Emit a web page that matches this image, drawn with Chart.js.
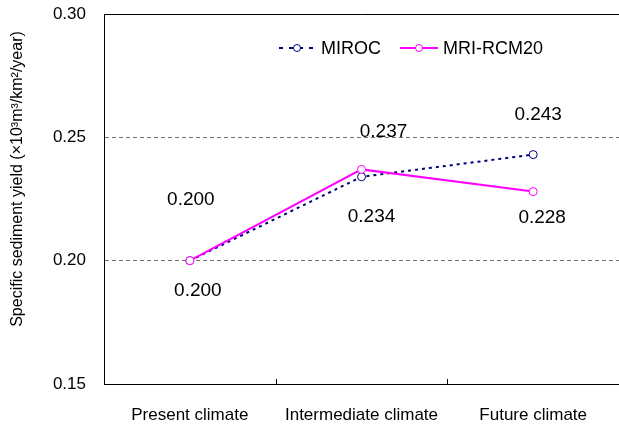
<!DOCTYPE html>
<html><head><meta charset="utf-8">
<script src="https://cdn.jsdelivr.net/npm/chart.js@4/dist/chart.umd.min.js"></script>
<style>html,body{margin:0;padding:0;background:#fff;overflow:hidden;}#wrap{position:relative;width:624px;height:425px;}</style>
</head><body><div id="wrap"><canvas id="c" width="624" height="425"></canvas></div>
<script>
const categories = ['Present climate', 'Intermediate climate', 'Future climate'];
const mirocValues = [0.200, 0.234, 0.243];
const mriValues = [0.200, 0.237, 0.228];
const yTickValues = [0.15, 0.20, 0.25, 0.30];
const seriesNames = ['MIROC', 'MRI-RCM20'];
const yTitle = 'Specific sediment yield (\u00d710\u00b3m\u00b3/km\u00b2/year)';

const FONT = '"Liberation Sans", Arial, Helvetica, sans-serif';
const NAVY = '#000080';
const MAG = '#ff00ff';

// label offsets (dx, dy) relative to the point, per dataset/point
const labelOffsets = {
  0: [[8, 30], [10, 40], [5, -40]],
  1: [[1, -61], [22, -38], [9, 26]]
};

const extras = {
  id: 'extras',
  afterDraw(chart) {
    const ctx = chart.ctx, ca = chart.chartArea;
    const xs = chart.scales.x;
    ctx.save();
    // top border line
    ctx.strokeStyle = '#000'; ctx.lineWidth = 1; ctx.setLineDash([]);
    ctx.beginPath(); ctx.moveTo(ca.left, Math.round(ca.top) + 0.5); ctx.lineTo(ca.right, Math.round(ca.top) + 0.5); ctx.stroke();
    // inner category ticks
    for (let i = 0; i < categories.length - 1; i++) {
      const bx = Math.round((xs.getPixelForValue(i) + xs.getPixelForValue(i + 1)) / 2) + 0.5;
      ctx.beginPath(); ctx.moveTo(bx, ca.bottom); ctx.lineTo(bx, ca.bottom - 5); ctx.stroke();
    }
    // data labels
    ctx.fillStyle = '#000'; ctx.font = '19px ' + FONT; ctx.textAlign = 'center'; ctx.textBaseline = 'middle';
    chart.data.datasets.forEach((ds, di) => {
      const meta = chart.getDatasetMeta(di);
      meta.data.forEach((pt, i) => {
        const off = labelOffsets[di][i];
        ctx.fillText(ds.data[i].toFixed(3), pt.x + off[0], pt.y + off[1]);
      });
    });
    // y title
    ctx.save();
    ctx.translate(18, 179); ctx.rotate(-Math.PI / 2);
    ctx.font = '16px ' + FONT; ctx.fillText(yTitle, 0, 0);
    ctx.restore();
    // legend
    const ly = 48;
    ctx.lineWidth = 2;
    ctx.strokeStyle = NAVY; ctx.setLineDash([4, 6]);
    ctx.beginPath(); ctx.moveTo(279, ly); ctx.lineTo(316, ly); ctx.stroke();
    ctx.setLineDash([]);
    ctx.strokeStyle = MAG;
    ctx.beginPath(); ctx.moveTo(400, ly); ctx.lineTo(438, ly); ctx.stroke();
    ctx.lineWidth = 1;
    [[297, NAVY], [419, MAG]].forEach(([cx, col]) => {
      ctx.fillStyle = '#fff'; ctx.strokeStyle = col;
      ctx.beginPath(); ctx.arc(cx, ly, 3.5, 0, Math.PI * 2); ctx.fill(); ctx.stroke();
    });
    ctx.fillStyle = '#000'; ctx.textAlign = 'left'; ctx.font = '18px ' + FONT;
    ctx.fillText(seriesNames[0], 321, ly + 1);
    ctx.fillText(seriesNames[1], 443, ly + 1);
    ctx.restore();
  }
};

new Chart(document.getElementById('c'), {
  type: 'line',
  data: {
    labels: categories,
    datasets: [
      { label: seriesNames[0], data: mirocValues, borderColor: NAVY, borderWidth: 2, borderDash: [3, 4],
        pointRadius: 4, pointBorderWidth: 1, pointBackgroundColor: '#fff', pointBorderColor: NAVY, tension: 0, order: 2 },
      { label: seriesNames[1], data: mriValues, borderColor: MAG, borderWidth: 2,
        pointRadius: 4, pointBorderWidth: 1, pointBackgroundColor: '#fff', pointBorderColor: MAG, tension: 0, order: 1 }
    ]
  },
  options: {
    responsive: false, animation: false, events: [],
    layout: { padding: { top: 0, left: 0, right: 0, bottom: 0 } },
    plugins: { legend: { display: false }, tooltip: { enabled: false } },
    scales: {
      x: {
        offset: true,
        grid: { display: false, drawTicks: false },
        border: { color: '#000', width: 1 },
        ticks: { color: '#000', font: { family: FONT, size: 17 }, padding: 21, maxRotation: 0 },
        afterFit: s => { s.height = 41; }
      },
      y: {
        min: 0.15, max: 0.30,
        afterBuildTicks: s => { s.ticks = yTickValues.map(v => ({ value: v })); },
        grid: { drawTicks: false, lineWidth: 1,
          color: c => (c.tick && (Math.abs(c.tick.value - 0.20) < 1e-9 || Math.abs(c.tick.value - 0.25) < 1e-9)) ? '#707070' : 'rgba(0,0,0,0)' },
        border: { color: '#000', width: 1, dash: [4, 3] },
        ticks: { color: '#000', font: { family: FONT, size: 17 }, padding: 18, callback: v => Number(v).toFixed(2) },
        afterFit: s => { s.width = 104; s.paddingTop = 14; }
      }
    }
  },
  plugins: [extras]
});
</script></body></html>
